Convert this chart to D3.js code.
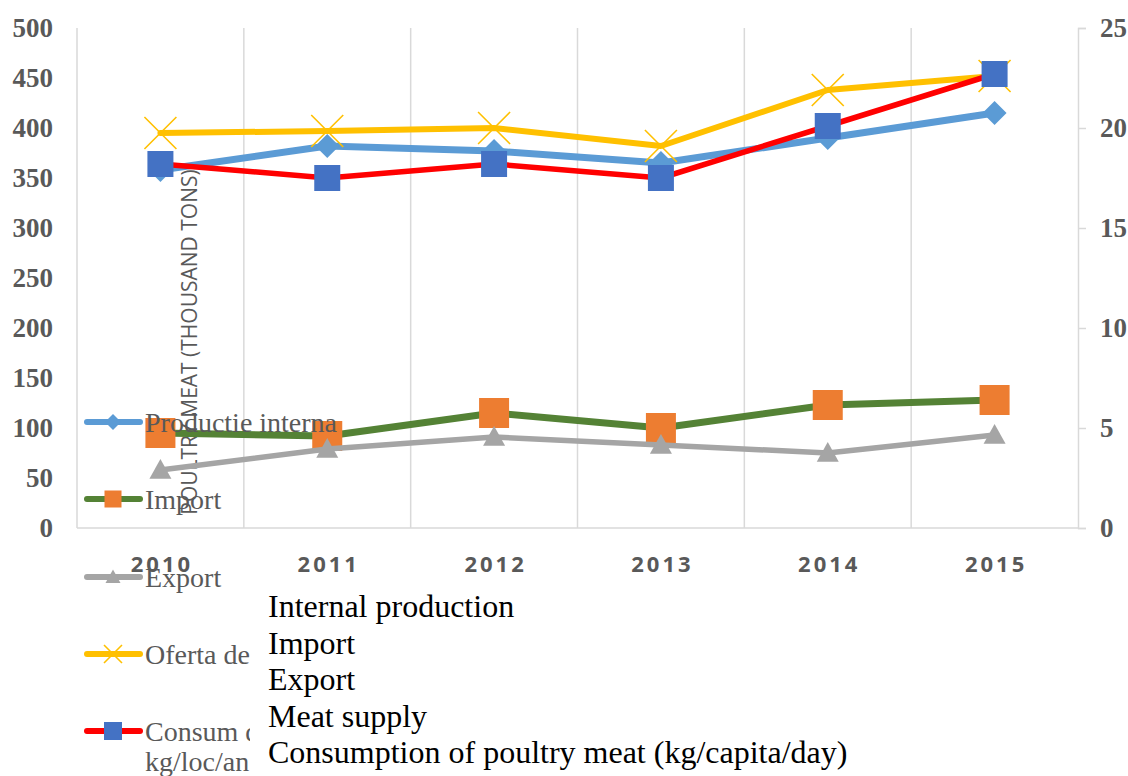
<!DOCTYPE html>
<html lang="en">
<head>
  <meta charset="UTF-8">
  <title>Poultry meat</title>
  <style>
  body { margin: 0; background: #fff; }
  svg { display: block; }
  </style>
</head>
<body>
  <script src="https://d3js.org/d3.v7.min.js"></script>
  <script>
  var years = ['2010', '2011', '2012', '2013', '2014', '2015'];
  var productie = [358, 382, 377, 365, 390, 415];
  var importVals = [95, 92, 115, 100, 123, 128];
  var exportVals = [58, 79, 91, 83, 75, 93];
  var oferta = [395, 397, 400, 382, 438, 452];
  var consum = [18.2, 17.5, 18.2, 17.5, 20.1, 22.7];
  var leftTicks = [0, 50, 100, 150, 200, 250, 300, 350, 400, 450, 500];
  var rightTicks = [0, 5, 10, 15, 20, 25];
  var englishNames = ['Internal production', 'Import', 'Export', 'Meat supply',
                      'Consumption of poultry meat (kg/capita/day)'];

  var width = 1128, height = 776;
  var svg = d3.select('body').append('svg')
              .attr('width', width)
              .attr('height', height);

  var x = d3.scaleBand().domain(years).range([77, 1078]);
  var yL = d3.scaleLinear().domain([0, 500]).range([528, 28]);
  var yR = d3.scaleLinear().domain([0, 25]).range([528, 28]);
  var cx = function (d) { return x(d) + x.bandwidth() / 2; };

  var grid = '#d9d9d9', tickColor = '#595959';

  // vertical gridlines between categories
  svg.append('g').selectAll('line')
     .data(years)
     .enter().append('line')
     .attr('x1', function (d) { return x(d); })
     .attr('x2', function (d) { return x(d); })
     .attr('y1', yL(500)).attr('y2', yL(0))
     .attr('stroke', grid).attr('stroke-width', 1.5);

  svg.append('line')
     .attr('x1', 77).attr('x2', 1078).attr('y1', yL(0)).attr('y2', yL(0))
     .attr('stroke', grid).attr('stroke-width', 1.5);

  // right axis
  var rAxis = d3.axisRight(yR).tickValues(rightTicks).tickSize(8).tickPadding(14);
  var rg = svg.append('g').attr('transform', 'translate(1078,0)').call(rAxis);
  rg.select('.domain').attr('stroke', grid).attr('stroke-width', 1.5);
  rg.selectAll('.tick line').attr('stroke', grid).attr('stroke-width', 1.5);
  rg.selectAll('text')
    .attr('fill', tickColor)
    .style('font', 'bold 27px "Liberation Serif", serif');

  // left axis (labels only)
  var lAxis = d3.axisLeft(yL).tickValues(leftTicks).tickSize(0).tickPadding(24);
  var lg = svg.append('g').attr('transform', 'translate(77,0)').call(lAxis);
  lg.select('.domain').remove();
  lg.selectAll('text')
    .attr('fill', tickColor)
    .style('font', 'bold 27px "Liberation Serif", serif');

  // category labels
  svg.append('g').selectAll('text')
     .data(years)
     .enter().append('text')
     .attr('x', function (d) { return cx(d) + 1.5; })
     .attr('y', 572)
     .attr('text-anchor', 'middle')
     .attr('fill', tickColor)
     .style('font', 'bold 22px "Open Sans", sans-serif')
     .style('letter-spacing', '3px')
     .text(function (d) { return d; });

  // axis title
  svg.append('text')
     .attr('transform', 'translate(197,342) rotate(-90)')
     .attr('text-anchor', 'middle')
     .attr('fill', tickColor)
     .style('font', '21px "Open Sans", sans-serif')
     .text('POULTRY MEAT (THOUSAND TONS)');

  function marker(g, type, size, fill, stroke) {
    var s = size / 2;
    if (type === 'diamond') {
      g.append('path').attr('d', 'M0,' + (-s) + 'L' + s + ',0L0,' + s + 'L' + (-s) + ',0Z')
       .attr('fill', fill);
    } else if (type === 'square') {
      g.append('rect').attr('x', -s).attr('y', -s).attr('width', size).attr('height', size)
       .attr('fill', fill);
    } else if (type === 'triangle') {
      g.append('path').attr('d', 'M0,' + (-s) + 'L' + s + ',' + (s * 0.8) + 'L' + (-s) + ',' + (s * 0.8) + 'Z')
       .attr('fill', fill);
    } else if (type === 'x') {
      g.append('path').attr('d', 'M' + (-s) + ',' + (-s) + 'L' + s + ',' + s + 'M' + s + ',' + (-s) + 'L' + (-s) + ',' + s)
       .attr('stroke', stroke).attr('stroke-width', 1.6).attr('fill', 'none');
    }
  }

  var series = [
    { name: 'Productie interna', values: productie, scale: yL, line: '#5b9bd5', lw: 7, mk: 'diamond', mfill: '#5b9bd5', size: 24 },
    { name: 'Import', values: importVals, scale: yL, line: '#548235', lw: 7, mk: 'square', mfill: '#ed7d31', size: 30 },
    { name: 'Export', values: exportVals, scale: yL, line: '#a5a5a5', lw: 5.5, mk: 'triangle', mfill: '#a5a5a5', size: 22 },
    { name: 'Oferta de carne', values: oferta, scale: yL, line: '#ffc000', lw: 6, mk: 'x', mfill: 'none', size: 32 },
    { name: 'Consum de carne', values: consum, scale: yR, line: '#ff0000', lw: 5.5, mk: 'square', mfill: '#4472c4', size: 26 }
  ];

  series.forEach(function (s) {
    var pts = years.map(function (yr, i) { return [cx(yr), s.scale(s.values[i])]; });
    var g = svg.append('g');
    g.append('path')
     .attr('d', d3.line()(pts))
     .attr('fill', 'none')
     .attr('stroke', s.line)
     .attr('stroke-width', s.lw)
     .attr('stroke-linejoin', 'round')
     .attr('stroke-linecap', 'round');
    pts.forEach(function (p) {
      var m = g.append('g').attr('transform', 'translate(' + p[0] + ',' + p[1] + ')');
      marker(m, s.mk, s.size, s.mfill, s.line);
    });
  });

  // legend (left, overlapping the plot); long names cut at x = 250
  svg.append('clipPath').attr('id', 'legclip')
     .append('rect').attr('x', 0).attr('y', -100).attr('width', 250).attr('height', 300);

  var legY = [422, 499, 577, 654, 731];
  var legSize = [16, 17, 15, 18, 18];
  series.forEach(function (s, i) {
    var g = svg.append('g').attr('transform', 'translate(0,' + legY[i] + ')');
    g.append('line')
     .attr('x1', 87).attr('x2', 140)
     .attr('stroke', s.line).attr('stroke-width', 6).attr('stroke-linecap', 'round');
    var m = g.append('g').attr('transform', 'translate(113,0)');
    marker(m, s.mk, legSize[i], s.mfill, s.line);
    var t = g.append('text')
     .attr('x', 145).attr('y', 10)
     .attr('fill', tickColor)
     .style('font', '28px "Liberation Serif", serif');
    if (i >= 3) t.attr('clip-path', 'url(#legclip)');
    t.text(s.name);
    if (i === 4) {
      g.append('text')
       .attr('x', 145).attr('y', 40)
       .attr('fill', tickColor)
       .attr('clip-path', 'url(#legclip)')
       .style('font', '28px "Liberation Serif", serif')
       .text('kg/loc/an');
    }
  });

  // English names block
  svg.append('g').selectAll('text')
     .data(englishNames)
     .enter().append('text')
     .attr('x', 268)
     .attr('y', function (d, i) { return 617 + i * 36.6; })
     .attr('fill', '#000')
     .style('font', '32px "Liberation Serif", serif')
     .text(function (d) { return d; });
  </script>
</body>
</html>
